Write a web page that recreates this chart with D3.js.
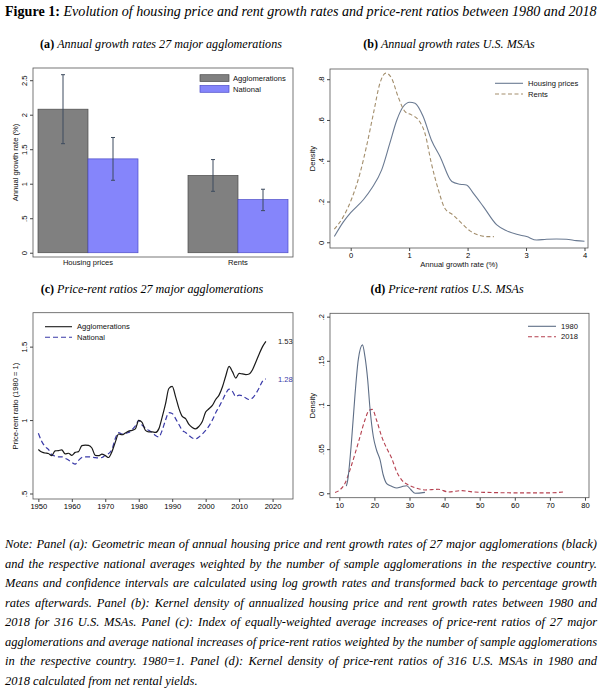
<!DOCTYPE html>
<html>
<head>
<meta charset="utf-8">
<script src="https://cdn.jsdelivr.net/npm/d3@7"></script>
<style>
  body { margin: 0; background: #fff; }
  svg { display: block; }
</style>
</head>
<body>
<script>
// (a) annual growth rates, 27 major agglomerations
const groups = ['Housing prices', 'Rents'];
const barSeries = ['Agglomerations', 'National'];
const aggMean = [2.08, 1.12];
const aggLow = [1.58, 0.89];
const aggHigh = [2.58, 1.35];
const natMean = [1.36, 0.77];
const natLow = [1.05, 0.61];
const natHigh = [1.67, 0.92];
const growthTicks = [0, 0.5, 1, 1.5, 2, 2.5];

// (b) kernel densities of growth rates, U.S. MSAs
const housingX = [-0.28, -0.125, 0, 0.22, 0.36, 0.53, 0.67, 0.79, 0.90, 1.01, 1.10, 1.24, 1.38, 1.53, 1.73,
  1.87, 1.98, 2.10, 2.27, 2.50, 2.67, 2.84, 3.01, 3.18, 3.35, 3.52, 3.69, 3.86, 4.0];
const housingDensity = [0.028, 0.10, 0.145, 0.21, 0.265, 0.355, 0.486, 0.60, 0.666, 0.687, 0.682, 0.617, 0.502, 0.42, 0.298,
  0.285, 0.281, 0.24, 0.175, 0.085, 0.056, 0.039, 0.028, 0.011, 0.015, 0.016, 0.015, 0.008, 0.005];
const rentX = [-0.28, -0.125, 0.02, 0.16, 0.27, 0.39, 0.50, 0.60, 0.70, 0.81, 0.93, 1.04, 1.16, 1.27, 1.38,
  1.50, 1.61, 1.75, 1.90, 2.04, 2.18, 2.32, 2.45];
const rentDensity = [0.065, 0.126, 0.216, 0.339, 0.47, 0.633, 0.78, 0.83, 0.805, 0.715, 0.641, 0.625, 0.60, 0.535, 0.388,
  0.257, 0.167, 0.134, 0.093, 0.056, 0.036, 0.028, 0.028];
const rateTicks = [0, 1, 2, 3, 4];
const densityTicksB = [0, 0.2, 0.4, 0.6, 0.8];

// (c) price-rent ratios, 1980 = 1
const years = d3.range(1950, 2019);
const aggRatio = [
  0.800, 0.782, 0.776, 0.772, 0.758, 0.790, 0.792, 0.797, 0.770, 0.774,
  0.760, 0.780, 0.785, 0.826, 0.830, 0.828, 0.810, 0.760, 0.758, 0.768,
  0.758, 0.745, 0.785, 0.850, 0.905, 0.900, 0.912, 0.925, 0.930, 0.940,
  0.998, 0.985, 0.930, 0.920, 0.920, 0.916, 0.940, 1.020, 1.110, 1.215,
  1.230, 1.160, 1.080, 1.025, 1.010, 0.970, 0.950, 0.940, 0.957, 0.990,
  1.055, 1.077, 1.100, 1.140, 1.170, 1.225, 1.300, 1.366, 1.330, 1.286,
  1.318, 1.314, 1.310, 1.314, 1.343, 1.395, 1.450, 1.500, 1.536];
const natRatio = [
  0.910, 0.855, 0.820, 0.800, 0.765, 0.755, 0.750, 0.750, 0.740, 0.728,
  0.712, 0.700, 0.725, 0.745, 0.750, 0.750, 0.748, 0.744, 0.742, 0.745,
  0.760, 0.772, 0.800, 0.875, 0.915, 0.905, 0.910, 0.915, 0.935, 0.960,
  0.998, 0.965, 0.945, 0.930, 0.915, 0.895, 0.885, 0.930, 1.000, 1.050,
  1.045, 1.010, 0.970, 0.930, 0.915, 0.895, 0.878, 0.872, 0.885, 0.905,
  0.930, 0.960, 1.000, 1.050, 1.090, 1.135, 1.180, 1.210, 1.195, 1.160,
  1.170, 1.165, 1.150, 1.140, 1.150, 1.180, 1.220, 1.265, 1.280];
const yearTicks = [1950, 1960, 1970, 1980, 1990, 2000, 2010, 2020];
const ratioTicks = [0.5, 1, 1.5];
const endLabels = ['1.53', '1.28'];

// (d) kernel densities of price-rent ratios, U.S. MSAs
const ratio1980X = [12.0, 12.4, 13.5, 14.5, 15.4, 16.6, 17.3, 18.1, 18.7, 19.7, 20.6, 21.6, 22.5, 23.5, 24.9,
  26.4, 27.8, 29.2, 30.4, 31.6, 34.4];
const density1980 = [0.008, 0.015, 0.06, 0.113, 0.151, 0.168, 0.155, 0.128, 0.098, 0.064, 0.049, 0.038, 0.021, 0.011, 0.008,
  0.006, 0.0075, 0.0086, 0.004, 0.0, 0.001];
const ratio2018X = [8.8, 10.2, 11.6, 13.0, 14.5, 15.9, 17.3, 18.5, 19.4, 20.6, 22.1, 23.5, 24.9, 26.4, 27.8,
  29.7, 32.1, 34.4, 38.2, 41.1, 45, 48, 52, 60, 70, 74];
const density2018 = [0.0008, 0.004, 0.011, 0.026, 0.045, 0.064, 0.083, 0.094, 0.095, 0.083, 0.064, 0.051, 0.040, 0.024, 0.015,
  0.0094, 0.0057, 0.0038, 0.0045, 0.0015, 0.003, 0.0015, 0.001, 0.0005, 0.0005, 0.0015];
const ratioTicksD = [10, 20, 30, 40, 50, 60, 70, 80];
const densityTicksD = [0, 0.05, 0.1, 0.15, 0.2];

const noteLines = [
  'Note: Panel (a): Geometric mean of annual housing price and rent growth rates of 27 major agglomerations (black)',
  'and the respective national averages weighted by the number of sample agglomerations in the respective country.',
  'Means and confidence intervals are calculated using log growth rates and transformed back to percentage growth',
  'rates afterwards. Panel (b): Kernel density of annualized housing price and rent growth rates between 1980 and',
  '2018 for 316 U.S. MSAs. Panel (c): Index of equally-weighted average increases of price-rent ratios of 27 major',
  'agglomerations and average national increases of price-rent ratios weighted by the number of sample agglomerations',
  'in the respective country. 1980=1. Panel (d): Kernel density of price-rent ratios of 316 U.S. MSAs in 1980 and',
  '2018 calculated from net rental yields.'
];

const width = 600, height = 692;
const SANS = '"Liberation Sans", Arial, sans-serif';
const SERIF = '"Liberation Serif", "Times New Roman", serif';
const fs = 7.6;
const fmt = d => d3.format('~g')(d).replace(/^0\./, '.');

const svg = d3.create('svg')
    .attr('width', width)
    .attr('height', height)
    .attr('viewBox', [0, 0, width, height]);
document.body.append(svg.node());

// ---------- helpers ----------
function frame(x0, x1, y0, y1) {
  svg.append('rect')
      .attr('x', x0).attr('y', y0)
      .attr('width', x1 - x0).attr('height', y1 - y0)
      .attr('fill', 'none').attr('stroke', '#555').attr('stroke-width', 0.8);
}

function yAxis(y, ticks, x0) {
  svg.append('g')
      .attr('transform', `translate(${x0},0)`)
      .call(d3.axisLeft(y).tickValues(ticks).tickFormat(fmt).tickSize(3))
      .attr('font-family', SANS).attr('font-size', fs)
      .call(g => g.select('.domain').remove())
      .call(g => g.selectAll('.tick line').attr('stroke', '#444'))
      .call(g => g.selectAll('.tick text')
          .attr('transform', 'rotate(-90)')
          .attr('x', 0).attr('y', -6.5).attr('dy', 0)
          .attr('text-anchor', 'middle'));
}

function xAxis(x, ticks, y0) {
  svg.append('g')
      .attr('transform', `translate(0,${y0})`)
      .call(d3.axisBottom(x).tickValues(ticks).tickFormat(fmt).tickSize(3).tickPadding(2))
      .attr('font-family', SANS).attr('font-size', fs)
      .call(g => g.select('.domain').remove())
      .call(g => g.selectAll('.tick line').attr('stroke', '#444'));
}

function label(x, y, text, opts = {}) {
  const t = svg.append('text')
      .attr('x', x).attr('y', y)
      .attr('font-family', SANS).attr('font-size', fs)
      .attr('fill', opts.fill || '#111')
      .attr('text-anchor', opts.anchor || 'start')
      .text(text);
  if (opts.rotate) t.attr('transform', `rotate(-90,${x},${y})`);
  return t;
}

function legendLine(x0, x1, y, color, dash, text) {
  svg.append('line')
      .attr('x1', x0).attr('x2', x1).attr('y1', y).attr('y2', y)
      .attr('stroke', color).attr('stroke-width', 1.1)
      .attr('stroke-dasharray', dash);
  label(x1 + 5, y + 2.7, text);
}

function densityLine(x, y, xs, ys, color, dash, w = 1.1) {
  svg.append('path')
      .datum(xs.map((v, i) => [v, ys[i]]))
      .attr('fill', 'none')
      .attr('stroke', color).attr('stroke-width', w)
      .attr('stroke-dasharray', dash)
      .attr('d', d3.line().x(d => x(d[0])).y(d => y(d[1])).curve(d3.curveMonotoneX));
}

// ---------- titles ----------
const title = svg.append('text')
    .attr('x', 5).attr('y', 16)
    .attr('font-family', SERIF).attr('font-size', 14);
title.append('tspan').attr('font-weight', 'bold').text('Figure 1: ');
title.append('tspan').attr('font-style', 'italic')
    .text('Evolution of housing price and rent growth rates and price-rent ratios between 1980 and 2018');
title.attr('font-size', 14 * 592 / title.node().getComputedTextLength());

function panelTitle(cx, y, tag, text) {
  const t = svg.append('text')
      .attr('x', cx).attr('y', y)
      .attr('text-anchor', 'middle')
      .attr('font-family', SERIF).attr('font-size', 13);
  t.append('tspan').attr('font-weight', 'bold').text(tag + ' ');
  t.append('tspan').attr('font-style', 'italic').text(text);
  return t;
}
const ta = panelTitle(161, 48, '(a)', 'Annual growth rates 27 major agglomerations');
const titleSize = 13 * 242 / ta.node().getComputedTextLength();
ta.attr('font-size', titleSize);
panelTitle(449, 48, '(b)', 'Annual growth rates U.S. MSAs').attr('font-size', titleSize);
panelTitle(152, 293, '(c)', 'Price-rent ratios 27 major agglomerations').attr('font-size', titleSize);
panelTitle(447, 293, '(d)', 'Price-rent ratios U.S. MSAs').attr('font-size', titleSize);

// ---------- panel (a) ----------
{
  const xa = d3.scaleBand().domain(groups).range([33, 293]).paddingInner(1 / 3).paddingOuter(1 / 30);
  const xs = d3.scaleBand().domain(barSeries).range([0, xa.bandwidth()]);
  const ya = d3.scaleLinear().domain([-0.062, 2.677]).range([257, 68]);
  const fills = { Agglomerations: '#808080', National: '#8585fb' };
  const strokes = { Agglomerations: '#4a4a4a', National: '#4b4bc8' };

  const rows = groups.flatMap((g, i) => [
    { group: g, series: 'Agglomerations', mean: aggMean[i], lo: aggLow[i], hi: aggHigh[i] },
    { group: g, series: 'National', mean: natMean[i], lo: natLow[i], hi: natHigh[i] }
  ]);

  svg.append('g').selectAll('rect')
    .data(rows)
    .join('rect')
      .attr('x', d => xa(d.group) + xs(d.series))
      .attr('y', d => ya(d.mean))
      .attr('width', xs.bandwidth())
      .attr('height', d => ya(0) - ya(d.mean))
      .attr('fill', d => fills[d.series])
      .attr('stroke', d => strokes[d.series])
      .attr('stroke-width', 0.7);

  const eb = svg.append('g').attr('stroke', '#3d4b5e').attr('stroke-width', 1)
    .selectAll('g').data(rows).join('g')
      .attr('transform', d => `translate(${xa(d.group) + xs(d.series) + xs.bandwidth() / 2},0)`);
  eb.append('line').attr('y1', d => ya(d.lo)).attr('y2', d => ya(d.hi));
  eb.append('line').attr('x1', -2).attr('x2', 2).attr('y1', d => ya(d.lo)).attr('y2', d => ya(d.lo));
  eb.append('line').attr('x1', -2).attr('x2', 2).attr('y1', d => ya(d.hi)).attr('y2', d => ya(d.hi));

  frame(33, 293, 68, 257);
  yAxis(ya, growthTicks, 33);
  groups.forEach(g => label(xa(g) + xa.bandwidth() / 2, 265, g, { anchor: 'middle' }));
  label(18, 162.5, 'Annual growth rate (%)', { anchor: 'middle', rotate: true });

  barSeries.forEach((s, i) => {
    svg.append('rect')
        .attr('x', 200).attr('y', 74.7 + i * 10.8)
        .attr('width', 29).attr('height', 6.8)
        .attr('fill', fills[s]).attr('stroke', strokes[s]).attr('stroke-width', 0.7);
    label(233, 81.3 + i * 10.8, s);
  });
}

// ---------- panel (b) ----------
{
  const xb = d3.scaleLinear().domain([-0.354, 4.06]).range([330, 588]);
  const yb = d3.scaleLinear().domain([-0.028, 0.85]).range([248, 69]);
  densityLine(xb, yb, housingX, housingDensity, '#6a7a92', null);
  densityLine(xb, yb, rentX, rentDensity, '#a38e6c', '4,2.5');
  frame(330, 588, 69, 248);
  yAxis(yb, densityTicksB, 330);
  xAxis(xb, rateTicks, 248);
  label(459, 266.5, 'Annual growth rate (%)', { anchor: 'middle' });
  label(314.5, 158.5, 'Density', { anchor: 'middle', rotate: true });
  legendLine(495, 523, 83.3, '#6a7a92', null, 'Housing prices');
  legendLine(495, 523, 94, '#a38e6c', '4,2.5', 'Rents');
}

// ---------- panel (c) ----------
{
  const xc = d3.scaleLinear().domain([1948.4, 2026.1]).range([33, 293]);
  const yc = d3.scaleLinear().domain([0.4626, 1.731]).range([499, 312.7]);
  const aggColor = '#1a1a1a', natColor = '#3a3aa8';
  densityLine(xc, yc, years, natRatio, natColor, '5,3', 1.2);
  densityLine(xc, yc, years, aggRatio, aggColor, null, 1.2);
  frame(33, 293, 312.7, 499);
  yAxis(yc, ratioTicks, 33);
  xAxis(xc, yearTicks, 499);
  label(17.5, 406, 'Price-rent ratio (1980 = 1)', { anchor: 'middle', rotate: true });
  const last = years.length - 1;
  label(xc(years[last]) + 12, yc(aggRatio[last]) + 3, endLabels[0], { fill: aggColor });
  label(xc(years[last]) + 12, yc(natRatio[last]) + 3, endLabels[1], { fill: natColor });
  legendLine(45, 72, 326.7, aggColor, null, 'Agglomerations');
  legendLine(45, 72, 337.3, natColor, '5,3', 'National');
}

// ---------- panel (d) ----------
{
  const xd = d3.scaleLinear().domain([7.35, 81.14]).range([330, 589]);
  const yd = d3.scaleLinear().domain([-0.005, 0.2038]).range([497.7, 313.3]);
  densityLine(xd, yd, ratio2018X, density2018, '#b5404f', '4,2.5');
  densityLine(xd, yd, ratio1980X, density1980, '#5e6e86', null);
  frame(330, 589, 313.3, 497.7);
  yAxis(yd, densityTicksD, 330);
  xAxis(xd, ratioTicksD, 497.7);
  label(314.5, 405.5, 'Density', { anchor: 'middle', rotate: true });
  legendLine(528, 556, 326.3, '#5e6e86', null, '1980');
  legendLine(528, 556, 336.7, '#b5404f', '4,2.5', '2018');
}

// ---------- note ----------
{
  const lines = noteLines.map((s, i) => svg.append('text')
      .attr('x', 5).attr('y', 548 + i * 19.57)
      .attr('font-family', SERIF).attr('font-style', 'italic')
      .attr('font-size', 14).text(s));
  const maxW = d3.max(lines, t => t.node().getComputedTextLength());
  const size = Math.min(14, 14 * 592 / maxW);
  lines.forEach((t, i) => {
    t.attr('font-size', size);
    if (i < lines.length - 1) {
      const spaces = noteLines[i].split(' ').length - 1;
      const extra = (592 - t.node().getComputedTextLength()) / spaces;
      t.attr('word-spacing', extra);
    }
  });
}
</script>
</body>
</html>
